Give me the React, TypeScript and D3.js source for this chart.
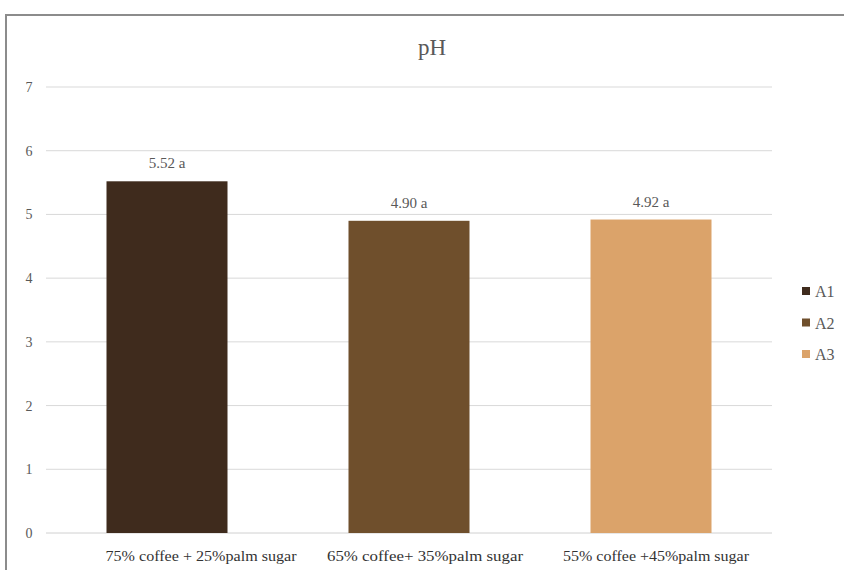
import React from "react";
import * as d3 from "d3";

const categories = ["75% coffee + 25%palm sugar", "65% coffee+ 35%palm sugar", "55% coffee +45%palm sugar"];
const series = ["A1", "A2", "A3"];
const values = [5.52, 4.9, 4.92];
const valueLabels = ["5.52 a", "4.90 a", "4.92 a"];
const colors = ["#3f2b1d", "#6f4f2c", "#dba36a"];
const yTicks = [0, 1, 2, 3, 4, 5, 6, 7];

export default function App() {
  const W = 844, H = 570;
  const left = 46, right = 772, top = 87, bottom = 533;
  const x = d3.scaleBand<string>().domain(categories).range([left, right]).paddingInner(0.5).paddingOuter(0.25);
  const y = d3.scaleLinear().domain([0, 7]).range([bottom, top]);
  const font = "'Liberation Serif', 'Times New Roman', serif";
  const labelShift = [34, 16, 5];
  const labelLen = [191, 196, 186];
  return (
    <svg width={W} height={H} style={{ position: "absolute", left: 0, top: 0, background: "#fff" }} fontFamily={font}>
      <rect x={6} y={15} width={W + 10} height={H} fill="#fff" stroke="#8c8c8c" strokeWidth={2} />
      <text x={432} y={55} textAnchor="middle" fontSize={23} fill="#595959">pH</text>
      {yTicks.map((t) => (
        <g key={t}>
          <line x1={left} x2={right} y1={y(t)} y2={y(t)} stroke={t === 0 ? "#d0d0d0" : "#d9d9d9"} strokeWidth={1} />
          <text x={29} y={y(t) + 5} textAnchor="middle" fontSize={14} fill="#595959">{t}</text>
        </g>
      ))}
      {categories.map((c, i) => (
        <g key={c}>
          <rect x={x(c)} y={y(values[i])} width={x.bandwidth()} height={y(0) - y(values[i])} fill={colors[i]} />
          <text x={(x(c) as number) + x.bandwidth() / 2} y={y(values[i]) - 13} textAnchor="middle" fontSize={15} fill="#595959">{valueLabels[i]}</text>
          <text x={(x(c) as number) + x.bandwidth() / 2 + labelShift[i]} y={561} textAnchor="middle" fontSize={15} fill="#333" textLength={labelLen[i]} lengthAdjust="spacingAndGlyphs">{c}</text>
        </g>
      ))}
      {series.map((s, i) => (
        <g key={s}>
          <rect x={802} y={287 + i * 31.5} width={8} height={8} fill={colors[i]} />
          <text x={815} y={297 + i * 31.5} fontSize={16} fill="#595959">{s}</text>
        </g>
      ))}
    </svg>
  );
}
